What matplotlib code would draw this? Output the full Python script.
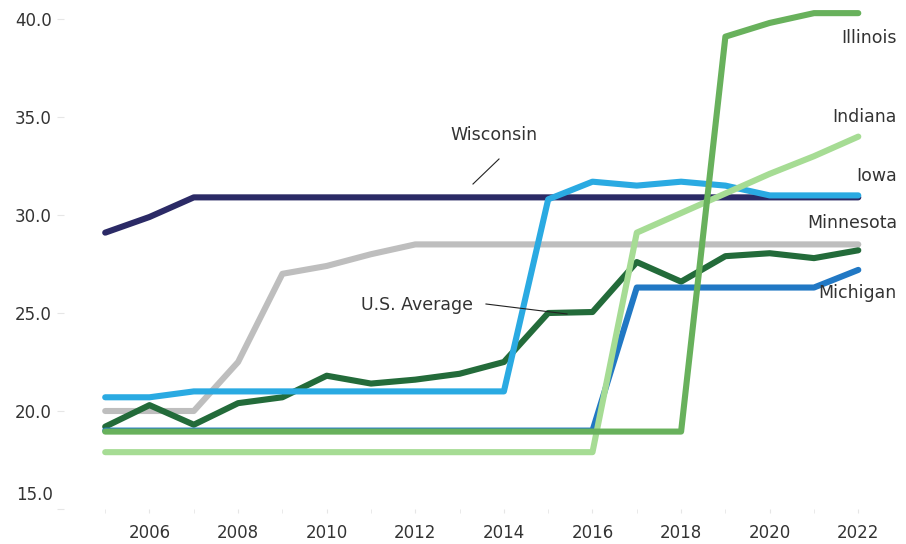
import numpy as np
import matplotlib.pyplot as plt
from matplotlib.transforms import ScaledTranslation

years = list(range(2005, 2023))

# values
wisconsin = [29.1, 29.9, 30.9, 30.9, 30.9, 30.9, 30.9, 30.9, 30.9, 30.9,
             30.9, 30.9, 30.9, 30.9, 30.9, 30.9, 30.9, 30.9]
minnesota = [20.0, 20.0, 20.0, 22.5, 27.0, 27.4, 28.0, 28.5, 28.5, 28.5,
             28.5, 28.5, 28.5, 28.5, 28.5, 28.5, 28.5, 28.5]
us_average = [19.2, 20.3, 19.3, 20.4, 20.7, 21.8, 21.4, 21.6, 21.9, 22.5,
              25.0, 25.05, 27.6, 26.6, 27.9, 28.05, 27.8, 28.2]
michigan = [19.0, 19.0, 19.0, 19.0, 19.0, 19.0, 19.0, 19.0, 19.0, 19.0,
            19.0, 19.0, 26.3, 26.3, 26.3, 26.3, 26.3, 27.2]
iowa = [20.7, 20.7, 21.0, 21.0, 21.0, 21.0, 21.0, 21.0, 21.0, 21.0,
        30.8, 31.7, 31.5, 31.7, 31.5, 31.0, 31.0, 31.0]
indiana = [17.9, 17.9, 17.9, 17.9, 17.9, 17.9, 17.9, 17.9, 17.9, 17.9,
           17.9, 17.9, 29.1, 30.1, 31.1, 32.1, 33.0, 34.0]
illinois = [18.95, 18.95, 18.95, 18.95, 18.95, 18.95, 18.95, 18.95, 18.95, 18.95,
            18.95, 18.95, 18.95, 18.95, 39.1, 39.8, 40.3, 40.3]

series = [
    ('Wisconsin', wisconsin, '#2b2a66'),
    ('Minnesota', minnesota, '#bebebe'),
    ('U.S. Average', us_average, '#236b3a'),
    ('Michigan', michigan, '#2178c4'),
    ('Iowa', iowa, '#2aaae2'),
    ('Indiana', indiana, '#a6dc94'),
    ('Illinois', illinois, '#68b15c'),
]

plt.rcParams['font.family'] = ['DejaVu Sans']
text_col = '#333333'

fig = plt.figure(figsize=(9.06, 5.44), dpi=100)
W, H = 906.0, 544.0
ax = fig.add_axes([64 / W, 35 / H, (880 - 64) / W, (509 - 10) / H])

for name, vals, col in series:
    ax.plot(years, vals, color=col, lw=4.4, solid_capstyle='round',
            solid_joinstyle='round')

ax.set_xlim(2004.07, 2022.49)
ax.set_ylim(15, 40.46)

for s in ax.spines.values():
    s.set_visible(False)

ax.set_xticks(range(2006, 2023, 2))
ax.set_xticks(years, minor=True)
ax.set_yticks([15, 20, 25, 30, 35, 40])
ax.set_yticklabels(['', '20.0', '25.0', '30.0', '35.0', '40.0'])
ax.tick_params(axis='x', which='both', length=3, color='#e6e6e6', pad=8,
               labelsize=12, labelcolor=text_col)
ax.tick_params(axis='y', length=5, color='#e6e6e6', pad=4,
               labelsize=12, labelcolor=text_col)

# bottom y label sits a bit above its tick
ax.text(-0.0135, 0.0, '15.0', transform=ax.transAxes + ScaledTranslation(0, 0.14, fig.dpi_scale_trans),
        ha='right', va='center', fontsize=12, color=text_col)

# direct labels
def px(xp, yp):
    return xp / W, 1 - yp / H

lab = dict(fontsize=12.5, color=text_col, va='center')
fig.text(*px(897, 38), 'Illinois', ha='right', **lab)
fig.text(*px(897, 117), 'Indiana', ha='right', **lab)
fig.text(*px(897, 176), 'Iowa', ha='right', **lab)
fig.text(*px(897, 223), 'Minnesota', ha='right', **lab)
fig.text(*px(897, 293), 'Michigan', ha='right', **lab)
fig.text(*px(450, 135), 'Wisconsin', ha='left', **lab)
fig.text(*px(473, 305), 'U.S. Average', ha='right', **lab)

# leader lines
fig.add_artist(plt.Line2D([473 / W, 499 / W], [1 - 184 / H, 1 - 159 / H], color='#222222', lw=0.8))
fig.add_artist(plt.Line2D([486 / W, 567 / W], [1 - 304 / H, 1 - 314 / H], color='#222222', lw=0.8))

fig.savefig('out.png', dpi=100)
